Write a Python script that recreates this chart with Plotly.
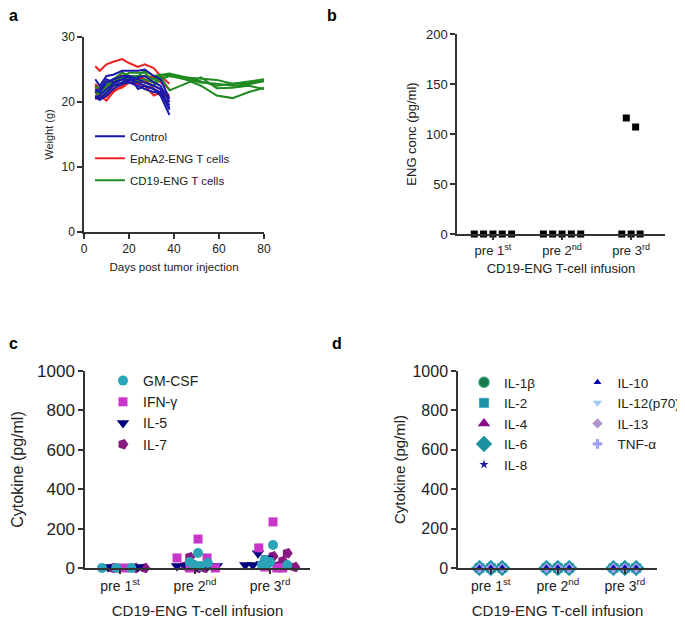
import plotly.graph_objects as go

# ---------------- Panel a data ----------------
days_short = [5, 7, 10, 13, 17, 20, 24, 27, 31, 34, 38]
days_long = [5, 7, 10, 13, 17, 20, 24, 27, 31, 34, 38, 45, 52, 59, 66, 73, 80]

control_weights = [
    [23.5, 22.5, 24.0, 24.2, 24.8, 24.8, 24.8, 25.0, 24.0, 23.5, 20.5],
    [22.0, 21.5, 23.0, 23.5, 24.0, 24.0, 22.0, 22.5, 22.0, 21.5, 19.5],
    [21.0, 20.5, 21.5, 22.5, 23.0, 23.5, 23.0, 22.5, 22.0, 21.0, 18.0],
    [20.5, 21.0, 22.0, 22.8, 23.5, 24.0, 23.5, 23.0, 22.5, 22.0, 19.0],
    [21.5, 22.0, 23.5, 23.0, 23.5, 23.2, 23.8, 24.0, 23.0, 22.5, 20.0],
    [20.8, 20.3, 21.0, 22.0, 22.8, 23.0, 22.5, 22.0, 21.5, 21.5, 18.8],
]
epha2_weights = [
    [25.5, 24.8, 25.8, 26.2, 26.6, 26.0, 25.4, 25.8, 25.2, 24.0, 22.8],
    [22.5, 21.0, 20.2, 21.5, 22.5, 23.5, 23.8, 23.5, 22.0, 21.0, 20.0],
    [21.5, 20.8, 21.0, 22.0, 23.0, 23.5, 23.0, 23.2, 22.5, 22.0, 21.0],
    [22.8, 22.0, 22.5, 23.0, 24.5, 24.0, 23.5, 24.0, 23.8, 23.0, 22.0],
    [20.5, 20.5, 20.8, 21.8, 22.2, 23.0, 22.8, 22.5, 21.0, 21.5, 20.5],
]
cd19_weights = [
    [22.0, 21.5, 22.5, 23.5, 24.5, 24.0, 24.0, 24.8, 24.0, 24.2, 24.4, 23.8, 23.2, 22.5, 22.8, 22.9, 23.3],
    [21.5, 21.0, 22.0, 23.0, 23.5, 23.5, 23.2, 23.5, 23.0, 24.0, 24.2, 23.5, 22.5, 21.0, 20.6, 21.5, 22.2],
    [21.0, 20.5, 21.5, 22.5, 23.0, 23.8, 23.5, 23.0, 22.5, 23.5, 24.0, 23.8, 23.5, 23.4, 22.8, 23.1, 23.5],
    [22.5, 22.0, 23.0, 23.5, 23.8, 24.5, 24.5, 24.5, 23.0, 23.8, 21.8, 22.8, 23.8, 22.1, 22.2, 22.5, 22.0],
    [21.8, 21.2, 22.0, 23.0, 24.0, 23.7, 24.0, 24.0, 23.5, 24.2, 24.0, 23.5, 23.0, 22.8, 22.5, 22.7, 23.2],
]

# ---------------- shared categories ----------------
categories = ["pre 1<sup>st</sup>", "pre 2<sup>nd</sup>", "pre 3<sup>rd</sup>"]
cat_index = [0, 1, 2]

# ---------------- Panel b data ----------------
eng_conc = [[0, 0, 0, 0, 0], [0, 0, 0, 0, 0], [0, 116, 0, 107, 0]]
eng_jitter = [[-0.27, -0.135, 0, 0.135, 0.27],
              [-0.27, -0.135, 0, 0.135, 0.27],
              [-0.135, -0.07, 0, 0.065, 0.13]]

# ---------------- Panel c data ----------------
c_names = ["GM-CSF", "IFN-γ", "IL-5", "IL-7"]
c_values = {
    "GM-CSF": [[0, 0, 0], [30, 76, 15, 25, 10], [117, 40, 20, 15, 15, 30]],
    "IFN-γ": [[0, 0], [51, 147, 51, 0, 0], [234, 102, 0, 0, 5]],
    "IL-5": [[5, 5, 5, 5], [10, 10, 10, 10, 10], [75, 50, 15, 15, 20]],
    "IL-7": [[0, 0, 0], [55, 10, 0, 0], [75, 60, 35, 5, 10]],
}
c_jitter = {
    "GM-CSF": [[-0.24, -0.05, 0.15], [-0.07, 0.04, -0.01, 0.17, 0.07], [0.04, -0.07, -0.03, -0.11, 0.23, 0.0]],
    "IFN-γ": [[-0.05, 0.07], [-0.24, 0.04, 0.16, -0.07, 0.27], [0.04, -0.15, 0.09, 0.17, -0.07]],
    "IL-5": [[-0.16, 0.0, 0.11, 0.24], [-0.24, -0.12, 0.03, 0.17, 0.29], [-0.16, -0.04, -0.23, -0.33, -0.11]],
    "IL-7": [[-0.1, 0.2, 0.33], [-0.07, -0.13, 0.04, 0.13], [0.23, 0.04, 0.17, 0.33, 0.1]],
}

# ---------------- Panel d data ----------------
d_names = ["IL-1β", "IL-2", "IL-4", "IL-6", "IL-8", "IL-10", "IL-12(p70)", "IL-13", "TNF-α"]
d_values = {n: [[0, 0, 0], [0, 0, 0], [0, 0, 0]] for n in d_names}
d_jitter = [-0.17, 0.0, 0.17]

# ---------------- styles / geometry ----------------
FONT = "Liberation Sans, Arial, sans-serif"
TXT = "#222222"
AX = "#333333"

# the page body adds an 8 px margin; the figure is sized to fit the window
OFF = 8
W, H = 685 - OFF, 619 - OFF


def fx(px):
    return (px - OFF) / W


def fy(py):
    return 1 - (py - OFF) / H


c_style = {
    "GM-CSF": dict(symbol="circle", color="#2ba4b8", size=10),
    "IFN-γ": dict(symbol="square", color="#c935c9", size=9),
    "IL-5": dict(symbol="triangle-down", color="#00007f", size=11),
    "IL-7": dict(symbol="pentagon", color="#861a80", size=11, angle=90),
}
d_style = {
    "IL-1β": dict(symbol="circle", color="#17784c", size=10, line=dict(color="#2e9c72", width=1.5)),
    "IL-2": dict(symbol="square", color="#1f90a6", size=9, line=dict(color="#3aa8be", width=1)),
    "IL-4": dict(symbol="triangle-up", color="#850a85", size=11),
    "IL-6": dict(symbol="diamond", color="#1b8f9f", size=12, line=dict(color="#33a9b5", width=1)),
    "IL-8": dict(symbol="star", color="#1a1aa6", size=7),
    "IL-10": dict(symbol="triangle-up", color="#0000b0", size=7),
    "IL-12(p70)": dict(symbol="triangle-down", color="#9ccaf5", size=8),
    "IL-13": dict(symbol="diamond", color="#b392cf", size=8),
    "TNF-α": dict(symbol="cross", color="#a0a0f5", size=8),
}

fig = go.Figure()

# ---- Panel a ----
groups = [("EphA2-ENG T cells", "#ee2222", epha2_weights, days_short, 2),
          ("CD19-ENG T cells", "#1f8a1f", cd19_weights, days_long, 3),
          ("Control", "#1a1aaa", control_weights, days_short, 1)]
for name, col, series, days, rank in groups:
    for i, w in enumerate(series):
        fig.add_trace(go.Scatter(
            x=days, y=w, mode="lines", name=name, legendgroup=name,
            showlegend=(i == 0), legendrank=rank, legend="legend",
            line=dict(color=col, width=2), xaxis="x", yaxis="y"))

# ---- Panel b ----
bx, by = [], []
for ci, vals in enumerate(eng_conc):
    for v, j in zip(vals, eng_jitter[ci]):
        bx.append(cat_index[ci] + j)
        by.append(v)
fig.add_trace(go.Scatter(x=bx, y=by, mode="markers", showlegend=False,
                         marker=dict(symbol="square", color="black", size=7),
                         cliponaxis=False, xaxis="x2", yaxis="y2"))

# ---- Panel c ----
for rank, n in reversed(list(enumerate(c_names))):
    xs, ys = [], []
    for ci in range(3):
        for v, j in zip(c_values[n][ci], c_jitter[n][ci]):
            xs.append(cat_index[ci] + j)
            ys.append(v)
    st = c_style[n]
    fig.add_trace(go.Scatter(
        x=xs, y=ys, mode="markers", name=n, legend="legend2", legendrank=rank + 1,
        marker=dict(symbol=st["symbol"], color=st["color"], size=st["size"],
                    angle=st.get("angle", 0), line=dict(width=0)),
        cliponaxis=False, xaxis="x3", yaxis="y3"))

# ---- Panel d ----
draw_order = ["IL-1β", "IL-2", "IL-4", "IL-6", "IL-8", "IL-12(p70)", "IL-13", "TNF-α", "IL-10"]
for n in draw_order:
    rank = d_names.index(n)
    xs, ys = [], []
    for ci in range(3):
        for v, j in zip(d_values[n][ci], d_jitter):
            xs.append(cat_index[ci] + j)
            ys.append(v)
    st = d_style[n]
    fig.add_trace(go.Scatter(
        x=xs, y=ys, mode="markers", name=n,
        legend=("legend3" if rank < 5 else "legend4"), legendrank=rank + 1,
        marker=dict(symbol=st["symbol"], color=st["color"], size=st["size"],
                    line=st.get("line", dict(width=0))),
        cliponaxis=False, xaxis="x4", yaxis="y4"))


def yax(domain, rng, dtick, title, tsize, fsize, anchor, standoff):
    return dict(domain=domain, range=rng, dtick=dtick, showline=True, linecolor=AX,
                linewidth=1.5, ticks="outside", ticklen=5, tickwidth=1.5, tickcolor=AX,
                showgrid=False, zeroline=False, anchor=anchor,
                tickfont=dict(family=FONT, size=tsize, color=TXT),
                title=dict(text=title, font=dict(family=FONT, size=fsize, color=TXT), standoff=standoff))


def xcat(domain, rng, tsize, fsize, anchor, standoff):
    return dict(domain=domain, range=rng, tickmode="array", tickvals=cat_index, ticktext=categories,
                showline=True, linecolor=AX, linewidth=1.5, ticks="outside", ticklen=4,
                tickwidth=1.5, tickcolor=AX, showgrid=False, zeroline=False, anchor=anchor,
                tickfont=dict(family=FONT, size=tsize, color=TXT),
                title=dict(text="CD19-ENG T-cell infusion",
                           font=dict(family=FONT, size=fsize, color=TXT), standoff=standoff))


legend_common = dict(bgcolor="rgba(0,0,0,0)", borderwidth=0, xanchor="left", yanchor="top")

fig.update_layout(
    width=W, height=H, margin=dict(l=0, r=0, t=0, b=0, autoexpand=False),
    paper_bgcolor="white", plot_bgcolor="white",
    font=dict(family=FONT, color=TXT),
    xaxis=dict(domain=[fx(84), fx(264)], range=[0, 80], dtick=20, showline=True, linecolor=AX,
               linewidth=1.5, ticks="outside", ticklen=5, tickwidth=1.5, tickcolor=AX,
               showgrid=False, zeroline=False, anchor="y",
               tickfont=dict(family=FONT, size=12, color=TXT),
               title=dict(text="Days post tumor injection",
                          font=dict(family=FONT, size=11.5, color=TXT), standoff=8)),
    yaxis=yax([fy(232), fy(37)], [0, 30], 10, "Weight (g)", 12, 11, "x", 6),
    xaxis2=xcat([fx(457), fx(665)], [-0.52, 2.49], 13, 13, "y2", 7),
    yaxis2=yax([fy(234), fy(34)], [0, 200], 50, "ENG conc (pg/ml)", 13, 13, "x2", 6),
    xaxis3=xcat([fx(85), fx(310)], [-0.467, 2.533], 14, 15, "y3", 13),
    yaxis3=yax([fy(568), fy(371)], [0, 1000], 200, "Cytokine (pg/ml)", 17, 16, "x3", 9),
    xaxis4=xcat([fx(458), fx(657)], [-0.49, 2.48], 14, 15, "y4", 13),
    yaxis4=yax([fy(568), fy(371)], [0, 1000], 200, "Cytokine (pg/ml)", 16, 15, "x4", 3),
    legend=dict(x=fx(90), y=fy(121.7), traceorder="grouped", tracegroupgap=3,
                font=dict(family=FONT, size=11.5, color=TXT), **legend_common),
    legend2=dict(x=fx(103), y=fy(365), tracegroupgap=0,
                 font=dict(family=FONT, size=14, color=TXT), **legend_common),
    legend3=dict(x=fx(464), y=fy(367), tracegroupgap=0,
                 font=dict(family=FONT, size=13.5, color=TXT), **legend_common),
    legend4=dict(x=fx(577.5), y=fy(367), tracegroupgap=0,
                 font=dict(family=FONT, size=13.5, color=TXT), **legend_common),
)

for label, lx, ly in [("a", 7, 16), ("b", 325, 16), ("c", 7, 343), ("d", 330, 343)]:
    fig.add_annotation(text="<b>%s</b>" % label, x=fx(lx), y=fy(ly), xref="paper", yref="paper",
                       xanchor="left", yanchor="middle", showarrow=False,
                       font=dict(family=FONT, size=16, color="black"))

fig.write_html("out.html")
